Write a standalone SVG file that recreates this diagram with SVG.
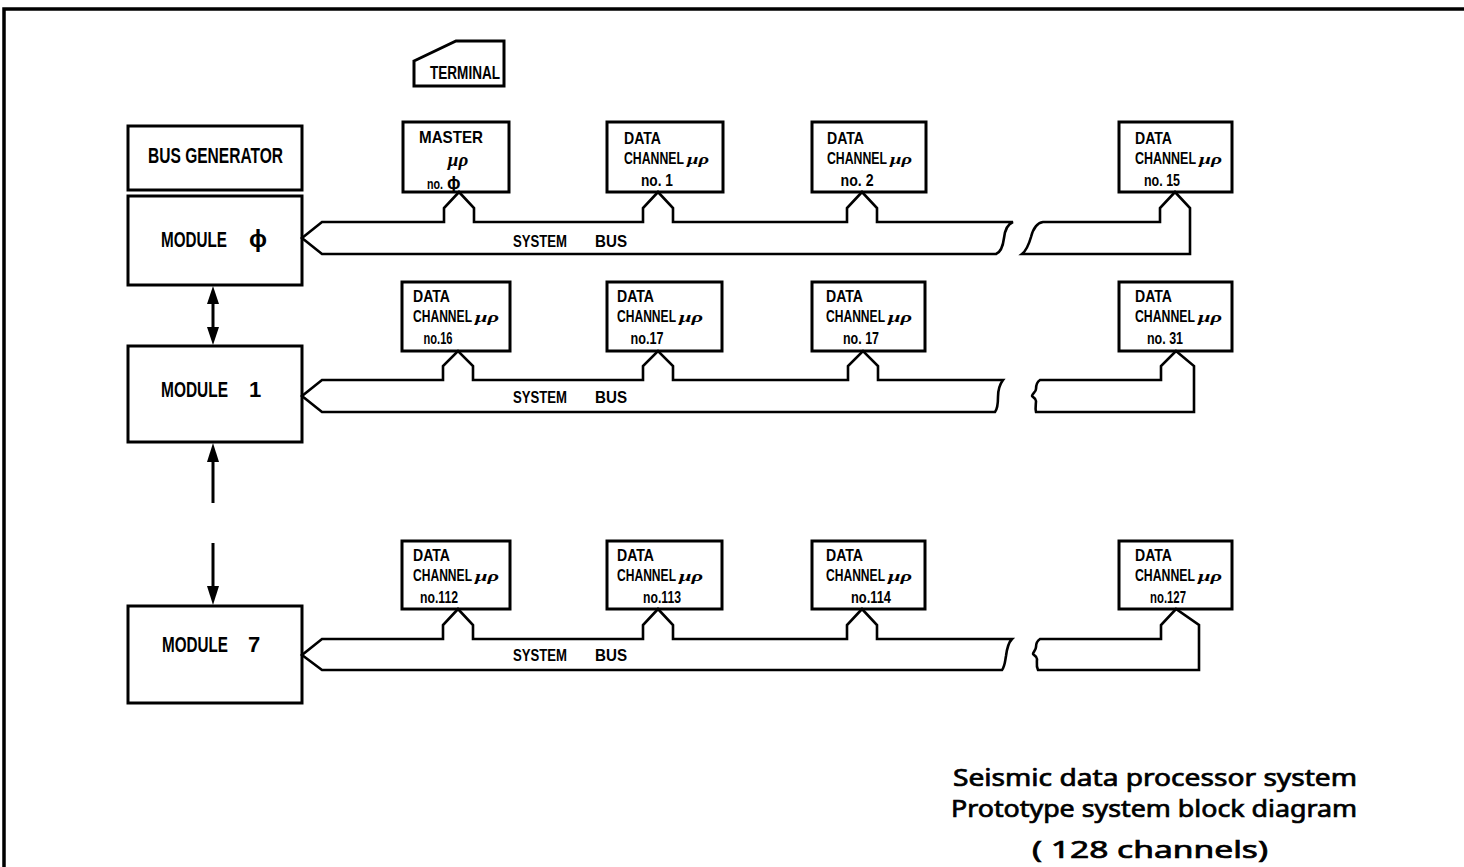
<svg xmlns="http://www.w3.org/2000/svg" width="1464" height="867" viewBox="0 0 1464 867">
<style>
  .bx{fill:#fff;stroke:#000;stroke-width:3}
  .bus{fill:none;stroke:#000;stroke-width:2.6;stroke-linejoin:miter}
  .ln{stroke:#000;stroke-width:3}
  .t{font-family:"Liberation Sans Narrow","Liberation Sans",Arial,sans-serif;font-weight:bold;fill:#000}
  .mu{font-family:"Liberation Serif","Times New Roman",serif;font-style:italic;font-weight:bold;fill:#000;font-size:15px}
  .ttl{font-family:"Noto Sans","Liberation Sans",sans-serif;font-weight:normal;fill:#000;stroke:#000;stroke-width:0.7;font-size:23px}
</style>
<rect width="1464" height="867" fill="#fff"/>
<!-- frame -->
<path d="M4,867 V9 H1464" fill="none" stroke="#000" stroke-width="3.5"/>

<g id="terminal">
  <path class="bx" d="M414,61 L456,41 L504,41 L504,86 L414,86 Z"/>
  <text class="t" x="430" y="79" font-size="18" textLength="70" lengthAdjust="spacingAndGlyphs">TERMINAL</text>
</g>

<g id="bus-generator">
  <rect class="bx" x="128" y="126" width="174" height="64"/>
  <text class="t" x="148" y="163" font-size="22" textLength="135" lengthAdjust="spacingAndGlyphs">BUS GENERATOR</text>
</g>
<g id="module0">
  <rect class="bx" x="128" y="196" width="174" height="89"/>
  <text class="t" x="161" y="247" font-size="22"><tspan textLength="66" lengthAdjust="spacingAndGlyphs">MODULE</tspan><tspan x="258" text-anchor="middle" font-size="24">ϕ</tspan></text>
</g>
<g id="module1">
  <rect class="bx" x="128" y="346" width="174" height="96"/>
  <text class="t" x="161" y="397" font-size="22"><tspan textLength="67" lengthAdjust="spacingAndGlyphs">MODULE</tspan><tspan x="249">1</tspan></text>
</g>
<g id="module7">
  <rect class="bx" x="128" y="606" width="174" height="97"/>
  <text class="t" x="162" y="652" font-size="22"><tspan textLength="66" lengthAdjust="spacingAndGlyphs">MODULE</tspan><tspan x="248">7</tspan></text>
</g>

<!-- Row 0 channel boxes -->
<g id="master">
  <rect class="bx" x="403" y="122" width="106" height="70"/>
  <text class="t" x="419" y="143" font-size="17" textLength="64" lengthAdjust="spacingAndGlyphs">MASTER</text>
  <text class="mu" x="458" y="166" style="font-size:19px" text-anchor="middle">μρ</text>
  <text class="t" x="427" y="189" font-size="14"><tspan textLength="16" lengthAdjust="spacingAndGlyphs">no.</tspan><tspan x="447" font-size="18">ϕ</tspan></text>
</g>
<g id="ch1">
  <rect class="bx" x="607" y="122" width="116" height="70"/>
  <text class="t" x="624" y="144" font-size="16" textLength="37" lengthAdjust="spacingAndGlyphs">DATA</text>
  <text class="t" x="624" y="164" font-size="16"><tspan textLength="60" lengthAdjust="spacingAndGlyphs">CHANNEL</tspan><tspan class="mu" dx="3" textLength="22" lengthAdjust="spacingAndGlyphs">μρ</tspan></text>
  <text class="t" x="657" y="186" font-size="16" text-anchor="middle" textLength="32" lengthAdjust="spacingAndGlyphs">no. 1</text>
</g>
<g id="ch2">
  <rect class="bx" x="812" y="122" width="114" height="70"/>
  <text class="t" x="827" y="144" font-size="16" textLength="37" lengthAdjust="spacingAndGlyphs">DATA</text>
  <text class="t" x="827" y="164" font-size="16"><tspan textLength="60" lengthAdjust="spacingAndGlyphs">CHANNEL</tspan><tspan class="mu" dx="3" textLength="22" lengthAdjust="spacingAndGlyphs">μρ</tspan></text>
  <text class="t" x="857" y="186" font-size="16" text-anchor="middle" textLength="33" lengthAdjust="spacingAndGlyphs">no. 2</text>
</g>
<g id="ch15">
  <rect class="bx" x="1119" y="122" width="113" height="70"/>
  <text class="t" x="1135" y="144" font-size="16" textLength="37" lengthAdjust="spacingAndGlyphs">DATA</text>
  <text class="t" x="1135" y="164" font-size="16"><tspan textLength="61" lengthAdjust="spacingAndGlyphs">CHANNEL</tspan><tspan class="mu" dx="3" textLength="23" lengthAdjust="spacingAndGlyphs">μρ</tspan></text>
  <text class="t" x="1162" y="186" font-size="16" text-anchor="middle" textLength="36" lengthAdjust="spacingAndGlyphs">no. 15</text>
</g>

<!-- Row 1 channel boxes -->
<g id="ch16">
  <rect class="bx" x="402" y="282" width="108" height="69"/>
  <text class="t" x="413" y="302" font-size="16" textLength="37" lengthAdjust="spacingAndGlyphs">DATA</text>
  <text class="t" x="413" y="322" font-size="16"><tspan textLength="59" lengthAdjust="spacingAndGlyphs">CHANNEL</tspan><tspan class="mu" dx="3" textLength="24" lengthAdjust="spacingAndGlyphs">μρ</tspan></text>
  <text class="t" x="438" y="344" font-size="16" text-anchor="middle" textLength="29" lengthAdjust="spacingAndGlyphs">no.16</text>
</g>
<g id="ch17">
  <rect class="bx" x="607" y="282" width="115" height="69"/>
  <text class="t" x="617" y="302" font-size="16" textLength="37" lengthAdjust="spacingAndGlyphs">DATA</text>
  <text class="t" x="617" y="322" font-size="16"><tspan textLength="59" lengthAdjust="spacingAndGlyphs">CHANNEL</tspan><tspan class="mu" dx="3" textLength="24" lengthAdjust="spacingAndGlyphs">μρ</tspan></text>
  <text class="t" x="647" y="344" font-size="16" text-anchor="middle" textLength="33" lengthAdjust="spacingAndGlyphs">no.17</text>
</g>
<g id="ch17b">
  <rect class="bx" x="812" y="282" width="113" height="69"/>
  <text class="t" x="826" y="302" font-size="16" textLength="37" lengthAdjust="spacingAndGlyphs">DATA</text>
  <text class="t" x="826" y="322" font-size="16"><tspan textLength="59" lengthAdjust="spacingAndGlyphs">CHANNEL</tspan><tspan class="mu" dx="3" textLength="24" lengthAdjust="spacingAndGlyphs">μρ</tspan></text>
  <text class="t" x="861" y="344" font-size="16" text-anchor="middle" textLength="36" lengthAdjust="spacingAndGlyphs">no. 17</text>
</g>
<g id="ch31">
  <rect class="bx" x="1119" y="282" width="113" height="69"/>
  <text class="t" x="1135" y="302" font-size="16" textLength="37" lengthAdjust="spacingAndGlyphs">DATA</text>
  <text class="t" x="1135" y="322" font-size="16"><tspan textLength="60" lengthAdjust="spacingAndGlyphs">CHANNEL</tspan><tspan class="mu" dx="3" textLength="24" lengthAdjust="spacingAndGlyphs">μρ</tspan></text>
  <text class="t" x="1165" y="344" font-size="16" text-anchor="middle" textLength="36" lengthAdjust="spacingAndGlyphs">no. 31</text>
</g>

<!-- Row 2 channel boxes -->
<g id="ch112">
  <rect class="bx" x="402" y="541" width="108" height="68"/>
  <text class="t" x="413" y="561" font-size="16" textLength="37" lengthAdjust="spacingAndGlyphs">DATA</text>
  <text class="t" x="413" y="581" font-size="16"><tspan textLength="59" lengthAdjust="spacingAndGlyphs">CHANNEL</tspan><tspan class="mu" dx="3" textLength="24" lengthAdjust="spacingAndGlyphs">μρ</tspan></text>
  <text class="t" x="439" y="603" font-size="16" text-anchor="middle" textLength="38" lengthAdjust="spacingAndGlyphs">no.112</text>
</g>
<g id="ch113">
  <rect class="bx" x="607" y="541" width="115" height="68"/>
  <text class="t" x="617" y="561" font-size="16" textLength="37" lengthAdjust="spacingAndGlyphs">DATA</text>
  <text class="t" x="617" y="581" font-size="16"><tspan textLength="59" lengthAdjust="spacingAndGlyphs">CHANNEL</tspan><tspan class="mu" dx="3" textLength="24" lengthAdjust="spacingAndGlyphs">μρ</tspan></text>
  <text class="t" x="662" y="603" font-size="16" text-anchor="middle" textLength="38" lengthAdjust="spacingAndGlyphs">no.113</text>
</g>
<g id="ch114">
  <rect class="bx" x="812" y="541" width="113" height="68"/>
  <text class="t" x="826" y="561" font-size="16" textLength="37" lengthAdjust="spacingAndGlyphs">DATA</text>
  <text class="t" x="826" y="581" font-size="16"><tspan textLength="59" lengthAdjust="spacingAndGlyphs">CHANNEL</tspan><tspan class="mu" dx="3" textLength="24" lengthAdjust="spacingAndGlyphs">μρ</tspan></text>
  <text class="t" x="871" y="603" font-size="16" text-anchor="middle" textLength="40" lengthAdjust="spacingAndGlyphs">no.114</text>
</g>
<g id="ch127">
  <rect class="bx" x="1119" y="541" width="113" height="68"/>
  <text class="t" x="1135" y="561" font-size="16" textLength="37" lengthAdjust="spacingAndGlyphs">DATA</text>
  <text class="t" x="1135" y="581" font-size="16"><tspan textLength="60" lengthAdjust="spacingAndGlyphs">CHANNEL</tspan><tspan class="mu" dx="3" textLength="24" lengthAdjust="spacingAndGlyphs">μρ</tspan></text>
  <text class="t" x="1168" y="603" font-size="16" text-anchor="middle" textLength="36" lengthAdjust="spacingAndGlyphs">no.127</text>
</g>

<g id="connectors">
  <!-- Row 0 bus -->
  <path class="bus" d="M1013,222 L877,222 L877,208 L862,192 L847,208 L847,222 L673,222 L673,208 L658,192 L643,208 L643,222 L474,222 L474,208 L459,192 L444,208 L444,222 L322,222 L302,238 L322,254 L996,254 C1001,252 1003,246 1004,238 C1005,229 1008,224 1013,222 Z"/>
  <path class="bus" d="M1043,222 L1160,222 L1160,208 L1175,192 L1190,208 L1190,254 L1022,254 C1027,250 1029,244 1031,237 C1033,229 1037,223 1043,222 Z"/>
  <!-- Row 1 bus -->
  <path class="bus" d="M1003,380 L878,380 L878,366 L863,351 L848,366 L848,380 L673,380 L673,366 L658,351 L643,366 L643,380 L473,380 L473,366 L458,351 L443,366 L443,380 L322,380 L302,396 L322,412 L995,412 C998,408 998,402 998,397 C998,390 1000,384 1003,380 Z"/>
  <path class="bus" d="M1040,380 L1161,380 L1161,366 L1176,351 L1194,366 L1194,412 L1036,412 C1035,408 1036,404 1036,401 C1036,398 1032,397 1032,396 C1032,394 1036,392 1036,389 C1036,386 1037,382 1040,380 Z"/>
  <!-- Row 2 bus -->
  <path class="bus" d="M1012,639 L877,639 L877,625 L862,609 L847,625 L847,639 L673,639 L673,625 L658,609 L643,625 L643,639 L473,639 L473,625 L458,609 L443,625 L443,639 L322,639 L302,655 L322,670 L1002,670 C1005,666 1005,661 1006,656 C1007,648 1009,642 1012,639 Z"/>
  <path class="bus" d="M1040,639 L1161,639 L1161,625 L1176,609 L1199,625 L1199,670 L1038,670 C1036,666 1037,662 1037,659 C1037,656 1033,655 1033,654 C1033,652 1036,650 1036,647 C1036,644 1037,641 1040,639 Z"/>
  <!-- module arrows -->
  <line class="ln" x1="213" y1="302" x2="213" y2="330"/>
  <path d="M213,286 L207,304 L219,304 Z M213,345 L207,327 L219,327 Z" fill="#000"/>
  <line class="ln" x1="213" y1="503" x2="213" y2="460"/>
  <path d="M213,443 L207,462 L219,462 Z" fill="#000"/>
  <line class="ln" x1="213" y1="543" x2="213" y2="588"/>
  <path d="M213,605 L207,586 L219,586 Z" fill="#000"/>
</g>

<g id="bus-labels">
  <text class="t" x="513" y="247" font-size="17"><tspan textLength="54" lengthAdjust="spacingAndGlyphs">SYSTEM</tspan><tspan x="595" textLength="32" lengthAdjust="spacingAndGlyphs">BUS</tspan></text>
  <text class="t" x="513" y="403" font-size="17"><tspan textLength="54" lengthAdjust="spacingAndGlyphs">SYSTEM</tspan><tspan x="595" textLength="32" lengthAdjust="spacingAndGlyphs">BUS</tspan></text>
  <text class="t" x="513" y="661" font-size="17"><tspan textLength="54" lengthAdjust="spacingAndGlyphs">SYSTEM</tspan><tspan x="595" textLength="32" lengthAdjust="spacingAndGlyphs">BUS</tspan></text>
</g>

<g id="title">
  <text class="ttl" x="953" y="786" textLength="404" lengthAdjust="spacingAndGlyphs">Seismic data processor system</text>
  <text class="ttl" x="951" y="817" textLength="406" lengthAdjust="spacingAndGlyphs">Prototype system block diagram</text>
  <text class="ttl" x="1032" y="858" textLength="236" lengthAdjust="spacingAndGlyphs">( 128 channels)</text>
</g>
</svg>
